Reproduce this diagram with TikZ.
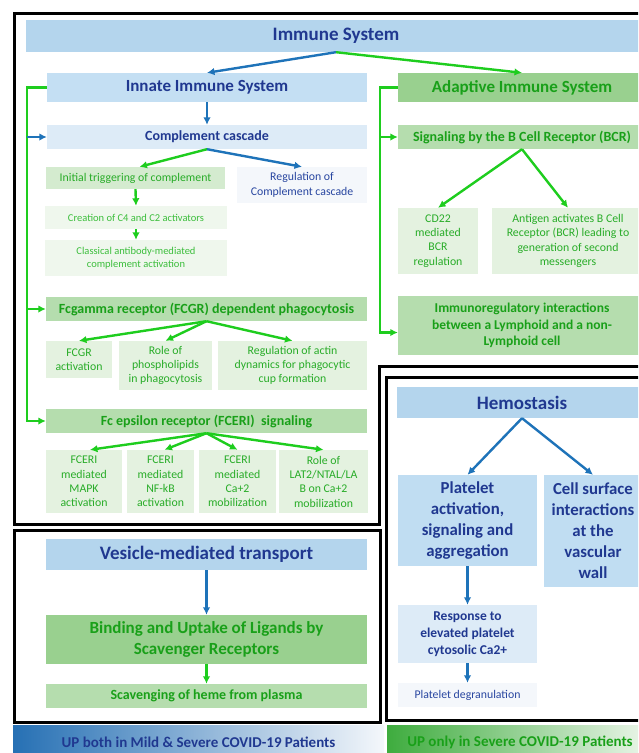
\documentclass[tikz,border=0pt]{standalone}
\usepackage{fontspec}
\setmainfont{Carlito}
\usetikzlibrary{arrows.meta}

\definecolor{darkblue}{RGB}{32,56,144}
\definecolor{midblue}{RGB}{40,70,160}
\definecolor{arrowblue}{RGB}{30,115,185}
\definecolor{arrowgreen}{RGB}{30,205,30}
\definecolor{boldgreen}{RGB}{25,160,25}
\definecolor{leafgreen}{RGB}{40,172,40}
\definecolor{palegreentext}{RGB}{60,190,60}
\definecolor{boxblue}{RGB}{180,213,237}
\definecolor{innateblue}{RGB}{196,223,243}
\definecolor{subblue}{RGB}{192,221,242}
\definecolor{paleblue}{RGB}{221,235,247}
\definecolor{faintblue}{RGB}{244,247,251}
\definecolor{midgreen}{RGB}{153,208,143}
\definecolor{softgreen}{RGB}{181,221,174}
\definecolor{initgreen}{RGB}{212,235,207}
\definecolor{leafbg}{RGB}{228,242,224}
\definecolor{paleleafbg}{RGB}{239,247,237}
\definecolor{legdarkblue}{RGB}{38,112,180}
\definecolor{legdarkgreen}{RGB}{62,172,62}
\definecolor{legmidgreen}{RGB}{205,234,200}

\begin{document}
\begin{tikzpicture}[x=1pt,y=-1pt,>={Latex[length=7.5pt,width=7.5pt]},
    box/.style={inner sep=0pt,align=center},
    titlebox/.style={box,fill=boxblue,text=darkblue,font=\bfseries\fontsize{19}{22}\selectfont},
    innatebox/.style={box,fill=innateblue,text=darkblue,font=\bfseries\fontsize{17}{20}\selectfont},
    compbox/.style={box,fill=paleblue,text=darkblue,font=\bfseries\fontsize{14}{16}\selectfont},
    faintbox/.style={box,fill=faintblue,text=midblue,font=\fontsize{11.8}{14.5}\selectfont},
    subblue/.style={box,fill=subblue,text=darkblue,font=\bfseries\fontsize{16.8}{21}\selectfont},
    respbox/.style={box,fill=paleblue,text=darkblue,font=\bfseries\fontsize{13.5}{16.7}\selectfont},
    adaptbox/.style={box,fill=midgreen,text=boldgreen,font=\bfseries\fontsize{17}{21}\selectfont},
    ghead/.style={box,fill=softgreen,text=boldgreen,font=\bfseries\fontsize{14}{16.5}\selectfont},
    initbox/.style={box,fill=initgreen,text=leafgreen,font=\fontsize{11.8}{14}\selectfont},
    gleaf/.style={box,fill=leafbg,text=leafgreen,font=\fontsize{11.8}{14.3}\selectfont},
    paleleaf/.style={box,fill=paleleafbg,text=palegreentext,font=\fontsize{10.5}{13}\selectfont},
    frame/.style={draw=black,line width=3pt},
    bline/.style={draw=arrowblue,line width=2.4pt},
    gline/.style={draw=arrowgreen,line width=2.4pt},
    legend/.style={box,text=darkblue,font=\bfseries\fontsize{15}{18}\selectfont}]
  \useasboundingbox (0,0) rectangle (638,753);
  \clip (0,0) rectangle (638,753);
  \fill[white] (0,0) rectangle (638,753);

  \draw[frame] (14,13) -- (662,13) -- (662,366) -- (379,366) -- (379,524) -- (14,524) -- cycle;
  \draw[frame] (386,377) rectangle (662,720);
  \draw[frame] (14,530) rectangle (380,722);

  \node[titlebox,minimum width=620,minimum height=32] (immune) at (336,36) {Immune System};
  \node[innatebox,minimum width=320,minimum height=29] (innate) at (207,87.5) {Innate Immune System};
  \node[adaptbox,minimum width=248,minimum height=29] (adaptive) at (522,87.5) {Adaptive Immune System};
  \node[compbox,minimum width=320,minimum height=24] (complement) at (207,137) {Complement cascade};
  \node[initbox,minimum width=179,minimum height=22] (initial) at (135.5,178) {Initial triggering of complement};
  \node[faintbox,minimum width=130,minimum height=36] (regcomp) at (302,185) {Regulation of\\Complement cascade};
  \node[paleleaf,minimum width=182,minimum height=23] (creation) at (136,217.5) {Creation of C4 and C2 activators};
  \node[paleleaf,minimum width=182,minimum height=36] (classical) at (136,258) {Classical antibody-mediated\\complement activation};
  \node[ghead,minimum width=321,minimum height=24] (fcgr) at (206.5,309) {Fcgamma receptor (FCGR) dependent phagocytosis};
  \node[gleaf,minimum width=66,minimum height=37] (fcgract) at (79,359.5) {FCGR\\activation};
  \node[gleaf,minimum width=93,minimum height=49] (phospho) at (165.5,365.5) {Role of\\phospholipids\\in phagocytosis};
  \node[gleaf,minimum width=149,minimum height=49] (actin) at (292.5,365.5) {Regulation of actin\\dynamics for phagocytic\\cup formation};
  \node[ghead,minimum width=321,minimum height=24] (fceri) at (206.5,421) {Fc epsilon receptor (FCERI)\ \ signaling};
  \node[gleaf,minimum width=76,minimum height=63] (mapk) at (84,481.5) {FCERI\\mediated\\MAPK\\activation};
  \node[gleaf,minimum width=67,minimum height=63] (nfkb) at (160.5,481.5) {FCERI\\mediated\\NF-kB\\activation};
  \node[gleaf,minimum width=77,minimum height=63] (camob) at (237.5,481.5) {FCERI\\mediated\\Ca+2\\mobilization};
  \node[gleaf,minimum width=89,minimum height=63] (latrole) at (323.5,481.5) {Role of\\LAT2/NTAL/LA\\B on Ca+2\\mobilization};

  \node[ghead,minimum width=248,minimum height=24] (bcr) at (522,137) {Signaling by the B Cell Receptor (BCR)};
  \node[gleaf,minimum width=80,minimum height=66] (cd22) at (438,241) {CD22\\mediated\\BCR\\regulation};
  \node[gleaf,minimum width=152,minimum height=66] (antigen) at (568,241) {Antigen activates B Cell\\Receptor (BCR) leading to\\generation of second\\messengers};
  \node[ghead,font=\bfseries\fontsize{13.5}{16.3}\selectfont,minimum width=248,minimum height=59] (immunoreg) at (522,325.5) {Immunoregulatory interactions\\between a Lymphoid and a non-\\Lymphoid cell};

  \node[titlebox,minimum width=250,minimum height=31] (hemostasis) at (522,402.5) {Hemostasis};
  \node[subblue,minimum width=139,minimum height=91] (platelet) at (467.5,520.5) {Platelet\\activation,\\signaling and\\aggregation};
  \node[subblue,minimum width=98,minimum height=112] (cellsurf) at (593,531) {Cell surface\\interactions\\at the\\vascular\\wall};
  \node[respbox,minimum width=139,minimum height=58] (response) at (467.5,634) {Response to\\elevated platelet\\cytosolic Ca2+};
  \node[faintbox,minimum width=139,minimum height=24] (degran) at (467.5,695) {Platelet degranulation};

  \node[titlebox,minimum width=321,minimum height=31] (vesicle) at (206.5,554.5) {Vesicle-mediated transport};
  \node[adaptbox,minimum width=321,minimum height=49] (binding) at (206.5,639.5) {Binding and Uptake of Ligands by\\Scavenger Receptors};
  \node[ghead,minimum width=321,minimum height=24] (scaveng) at (206.5,696) {Scavenging of heme from plasma};

  \node[legend,left color=legdarkblue,middle color=boxblue,right color=faintblue,minimum width=371,minimum height=35] (legboth) at (198.5,742.5) {UP both in Mild \& Severe COVID-19 Patients};
  \node[legend,text=boldgreen,left color=legdarkgreen,middle color=legmidgreen,right color=paleleafbg,minimum width=266,minimum height=35] (legonly) at (520,742.5) {UP only in Severe COVID-19 Patients};

  \coordinate (lbus) at (27,87.5);
  \coordinate (rbus) at (380,87.5);

  \draw[bline,->] (immune.south) -- (innate.north);
  \draw[gline,->] (immune.south) -- (adaptive.north);
  \draw[bline,->] (innate.south) -- (complement.north);
  \draw[gline,->] (innate.west) -- (lbus) |- (fceri.west);
  \draw[bline,->] (lbus |- complement.west) -- (complement.west);
  \draw[gline,->] (lbus |- fcgr.west) -- (fcgr.west);
  \draw[gline,->] (complement.south) -- ([xshift=4pt]initial.north);
  \draw[bline,->] (complement.south) -- (regcomp.north);
  \draw[gline,->] (initial.south) -- (creation.north);
  \draw[gline,->] (creation.south) -- (classical.north);
  \draw[gline,->] (fcgr.south) -- (fcgract.north);
  \draw[gline,->] (fcgr.south) -- (phospho.north);
  \draw[gline,->] (fcgr.south) -- (actin.north);
  \draw[gline,->] (fceri.south) -- ([xshift=6pt]mapk.north);
  \draw[gline,->] (fceri.south) -- ([xshift=4pt]nfkb.north);
  \draw[gline,->] (fceri.south) -- (camob.north);
  \draw[gline,->] (fceri.south) -- (latrole.north);

  \draw[gline,->] (adaptive.west) -- (rbus) |- ([yshift=-7pt]immunoreg.west);
  \draw[gline,->] (rbus |- bcr.west) -- (bcr.west);
  \draw[gline,->] (bcr.south) -- (cd22.north);
  \draw[gline,->] (bcr.south) -- (antigen.north);

  \draw[bline,->] (hemostasis.south) -- (platelet.north);
  \draw[bline,->] (hemostasis.south) -- (cellsurf.north);
  \draw[bline,->] (platelet.south) -- (response.north);
  \draw[bline,->] (response.south) -- (degran.north);

  \draw[bline,->] (vesicle.south) -- (binding.north);
  \draw[gline,->] (binding.south) -- (scaveng.north);
\end{tikzpicture}
\end{document}
